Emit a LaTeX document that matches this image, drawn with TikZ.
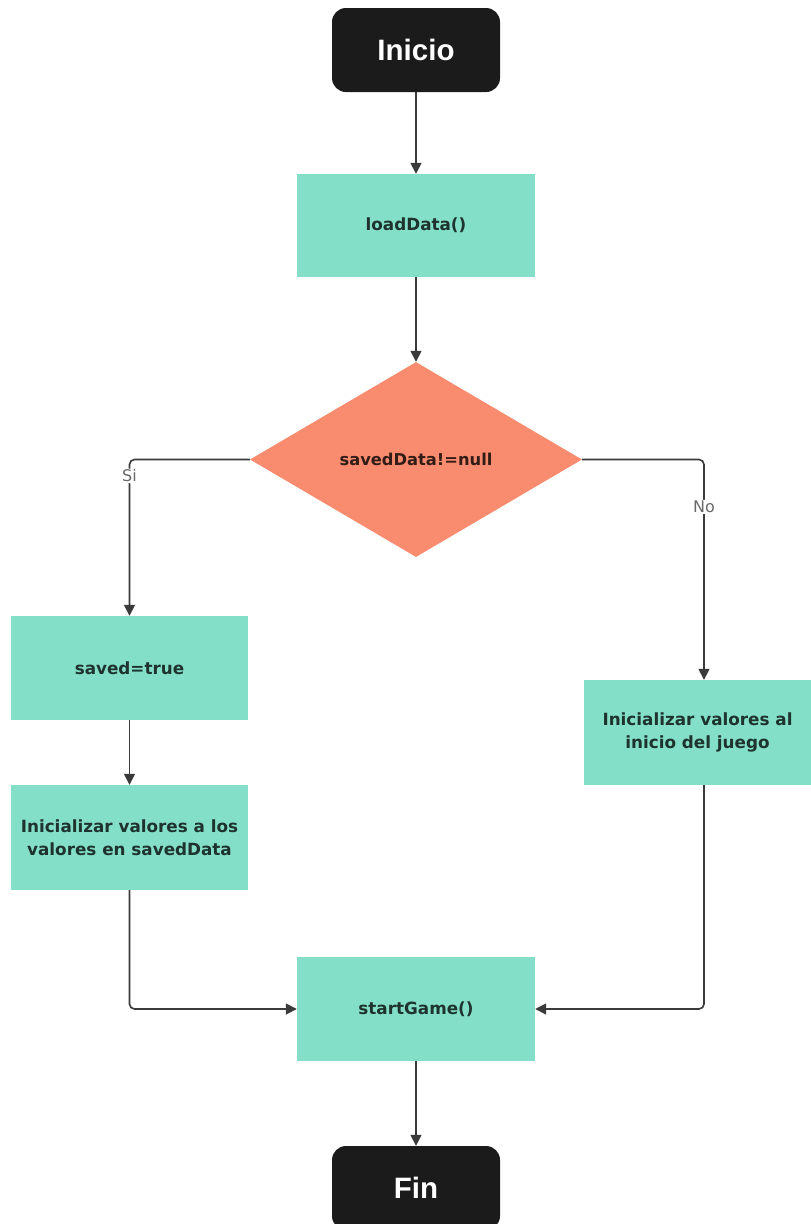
\documentclass[tikz,border=0pt]{standalone}
\usepackage{fontspec}
\setmainfont{DejaVu Sans}
\newfontfamily\termfont{Liberation Sans}
\usetikzlibrary{shapes.geometric,arrows.meta}
\definecolor{tealfill}{HTML}{84DFC9}
\definecolor{salmon}{HTML}{F98C6F}
\definecolor{termfill}{HTML}{1B1B1B}
\definecolor{linec}{HTML}{3A3A3A}
\definecolor{txtc}{HTML}{1E332E}
\definecolor{lblc}{HTML}{6A6A6A}
\tikzset{
  term/.style={rectangle, rounded corners=14pt, fill=termfill, text=white,
    minimum width=168pt, minimum height=84pt, inner sep=0pt,
    font=\termfont\bfseries\fontsize{29.5}{32}\selectfont},
  procbox/.style={rectangle, fill=tealfill, text=txtc, align=center,
    inner sep=0pt, font=\bfseries\fontsize{16.8}{23}\selectfont},
  decision/.style={diamond, fill=salmon, text=black!80!salmon, inner sep=0pt,
    minimum width=332pt, minimum height=195pt, aspect=1.7,
    font=\bfseries\fontsize{16.3}{20}\selectfont},
  flow/.style={draw=linec, line width=1.6pt, rounded corners=5pt,
    -{Triangle[length=11pt,width=11pt]}},
  edgelbl/.style={fill=white, text=lblc, inner sep=1pt,
    font=\fontsize{16}{18}\selectfont},
}
\begin{document}
\begin{tikzpicture}[x=1pt,y=-1pt]
\useasboundingbox (0,0) rectangle (811,1224);

\node[term] (inicio) at (416,50) {Inicio};
\node[procbox, minimum width=238pt, minimum height=103pt] (load) at (416,225.5) {loadData()};
\node[decision] (dec) at (416,459.5) {savedData!=null};
\node[procbox, minimum width=237pt, minimum height=104pt] (saved) at (129.5,668) {saved=true};
\node[procbox, minimum width=237pt, minimum height=105pt] (initsaved) at (129.5,837.5)
  {Inicializar valores a los\\valores en savedData};
\node[procbox, minimum width=227pt, minimum height=105pt] (initnew) at (697.5,732.5)
  {Inicializar valores al\\inicio del juego};
\node[procbox, minimum width=238pt, minimum height=104pt] (start) at (416,1009) {startGame()};
\node[term] (fin) at (416,1188) {Fin};

\coordinate (siturn) at (129.5,459.5);
\coordinate (noturn) at (704,459.5);

\draw[flow] (inicio) -- (load);
\draw[flow] (load) -- (dec);
\draw[flow] (dec.west) -- (siturn) -- (saved.north)
  node[edgelbl, pos=0.105] {Si};
\draw[flow] (dec.east) -- (noturn) -- (noturn |- initnew.north)
  node[edgelbl, pos=0.215] {No};
\draw[flow] (saved) -- (initsaved);
\draw[flow] (initsaved.south) |- (start.west);
\draw[flow] (initnew.south -| noturn) |- (start.east);
\draw[flow] (start) -- (fin);
\end{tikzpicture}
\end{document}
